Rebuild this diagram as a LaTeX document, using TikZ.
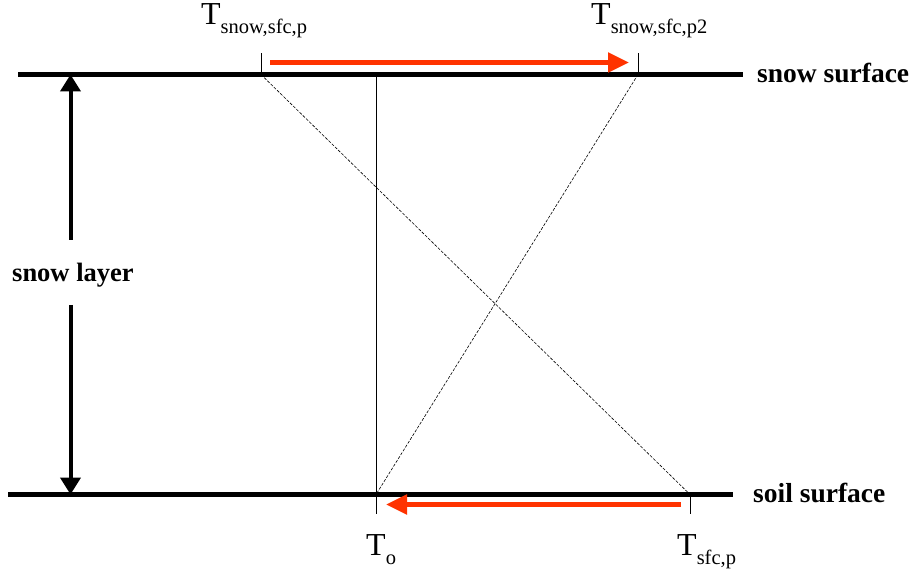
\documentclass[tikz,border=0pt]{standalone}
\usepackage{fontspec}
\setmainfont{Liberation Serif}
\usetikzlibrary{arrows.meta}
\definecolor{redarrow}{HTML}{FF3300}
\tikzset{
  surface/.style={line width=5pt},
  thinline/.style={line width=0.9pt},
  diag/.style={line width=0.6pt, dash pattern=on 3pt off 1.5pt},
  layerarrow/.style={line width=4pt, -{Triangle[length=17pt,width=20pt]}},
  redarr/.style={line width=5pt, draw=redarrow, -{Triangle[length=21pt,width=19pt]}},
  boldlabel/.style={inner sep=0pt, font=\fontsize{27.5}{27.5}\selectfont\bfseries},
  layerlabel/.style={inner sep=0pt, font=\fontsize{26.5}{26.5}\selectfont\bfseries},
  tlabel/.style={inner sep=0pt, font=\fontsize{32}{32}\selectfont},
}
\newcommand{\subtxt}[1]{\raisebox{-9pt}{\fontsize{20.5}{20.5}\selectfont #1}}
\begin{document}
\begin{tikzpicture}[x=1pt,y=-1pt]
\useasboundingbox (0,0) rectangle (911,572);
% coordinates
\coordinate (sl) at (18,74.5);
\coordinate (sr) at (743,74.5);
\coordinate (bl) at (8,494.5);
\coordinate (br) at (733,494.5);
\coordinate (p1) at (261,74.5);
\coordinate (p1t) at (261,53);
\coordinate (p2) at (638,74.5);
\coordinate (p2t) at (638,53);
\coordinate (o) at (376,74.5);
\coordinate (ob) at (376,494.5);
\coordinate (obt) at (376,514);
\coordinate (q) at (690,494.5);
\coordinate (qt) at (690,514);
\coordinate (atop) at (70.5,74.5);
\coordinate (abot) at (70.5,494.5);
\coordinate (amid1) at (70.5,240);
\coordinate (amid2) at (70.5,305);
\coordinate (r1s) at (270,62.5);
\coordinate (r1e) at (629,62.5);
\coordinate (r2s) at (681,504.5);
\coordinate (r2e) at (386,504.5);
% surfaces
\draw[surface] (sl) -- (sr);
\draw[surface] (bl) -- (br);
% labels
\node[boldlabel, anchor=base west] (ss) at (757,83) {snow surface};
\node[boldlabel, anchor=base west] (so) at (753,502) {soil surface};
\node[layerlabel, anchor=base west] (lay) at (12,282) {snow layer};
% layer arrow
\draw[layerarrow] (amid1) -- (atop);
\draw[layerarrow] (amid2) -- (abot);
% ticks and verticals
\draw[thinline] (p1) -- (p1t);
\draw[thinline] (p2) -- (p2t);
\draw[thinline] (o) -- (obt);
\draw[thinline] (q) -- (qt);
% diagonals
\draw[diag] (p1) -- (q);
\draw[diag] (p2) -- (ob);
% red arrows
\draw[redarr] (r1s) -- (r1e);
\draw[redarr] (r2s) -- (r2e);
% temperature labels
\node[tlabel, anchor=base west] (t1) at (201,25) {T\subtxt{snow,sfc,p}};
\node[tlabel, anchor=base west] (t2) at (591,25) {T\subtxt{snow,sfc,p2}};
\node[tlabel, anchor=base west] (t3) at (366,555) {T\subtxt{o}};
\node[tlabel, anchor=base west] (t4) at (677,555) {T\subtxt{sfc,p}};
\end{tikzpicture}
\end{document}
